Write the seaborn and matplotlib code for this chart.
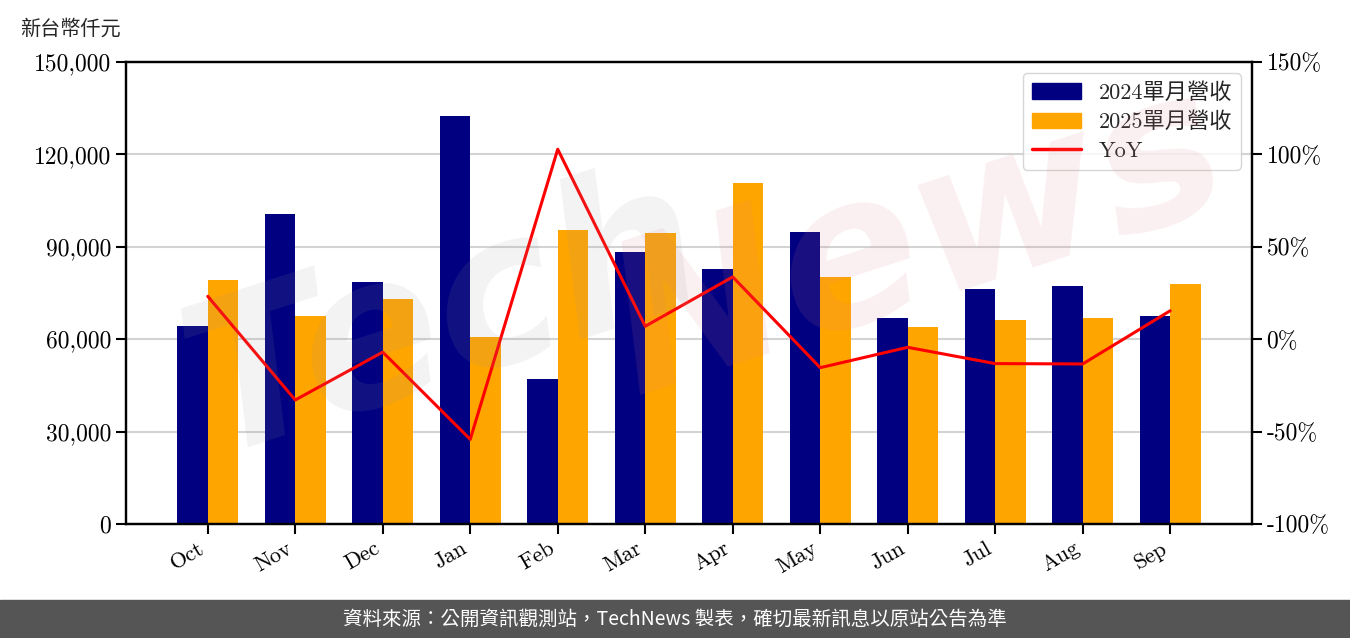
import matplotlib
matplotlib.use("Agg")
import matplotlib.pyplot as plt
import seaborn as sns
import pandas as pd
import numpy as np
from matplotlib.ticker import FuncFormatter, MultipleLocator
from matplotlib.patches import Patch
from matplotlib.lines import Line2D

# data (thousand NTD)
months = ['Oct', 'Nov', 'Dec', 'Jan', 'Feb', 'Mar', 'Apr', 'May', 'Jun', 'Jul', 'Aug', 'Sep']
rev_2024 = [64290, 100660, 78580, 132480, 47080, 88320, 82800, 94810, 66890, 76300, 77280, 67540]
rev_2025 = [79230, 67540, 73060, 60720, 95460, 94490, 110720, 80200, 63970, 66240, 66890, 77930]
yoy = [23.2, -32.9, -7.0, -54.2, 102.8, 7.0, 33.7, -15.4, -4.4, -13.2, -13.4, 15.4]
series_names = ['2024單月營收', '2025單月營收']
bar_colors = ['#000080', '#FFA500']

sns.set_theme(style='white')
plt.rcParams['font.family'] = ['cmr10', 'Noto Sans CJK TC']
plt.rcParams['axes.unicode_minus'] = False

df = pd.DataFrame({
    'month': months * 2,
    'revenue': rev_2024 + rev_2025,
    'series': [series_names[0]] * 12 + [series_names[1]] * 12,
})

fig = plt.figure(figsize=(13.5, 6.38), dpi=100)
ax = fig.add_axes([0.0933, 0.1787, 0.8341, 0.7241])

sns.barplot(data=df, x='month', y='revenue', hue='series', order=months,
            hue_order=series_names, palette=bar_colors, width=0.7,
            saturation=1, linewidth=0, ax=ax, legend=False)

ax.set_ylim(0, 150000)
ax.yaxis.set_major_locator(MultipleLocator(30000))
ax.yaxis.set_major_formatter(FuncFormatter(lambda v, p: f'{int(v):,}'))
ax.set_xlim(-0.935, 11.935)
ax.grid(axis='y', color='#d3d3d3', lw=1.5)
ax.set_axisbelow(True)
ax.set_xlabel('')
ax.set_ylabel('')
for s in ax.spines.values():
    s.set_color('black')
    s.set_linewidth(1.6)
ax.tick_params(axis='both', direction='out', length=7, width=1.5, colors='black',
               labelsize=17, left=True, bottom=True)
ax.tick_params(axis='x', labelsize=16)
plt.setp(ax.get_xticklabels(), rotation=30, ha='right')

# YoY line on the right axis
ax2 = ax.twinx()
sns.lineplot(x=np.arange(len(months)), y=yoy, color='red', lw=2.2, ax=ax2)
ax2.set_ylim(-100, 150)
ax2.yaxis.set_major_locator(MultipleLocator(50))
ax2.yaxis.set_major_formatter(FuncFormatter(lambda v, p: f'{int(v)}%'))
ax2.grid(False)
for s in ax2.spines.values():
    s.set_color('black')
    s.set_linewidth(1.6)
ax2.tick_params(axis='y', direction='out', length=7, width=1.5, colors='black',
                labelsize=17, right=True)
ax2.set_xlim(-0.935, 11.935)

handles = [Patch(color=bar_colors[0], label=series_names[0]),
           Patch(color=bar_colors[1], label=series_names[1]),
           Line2D([], [], color='red', lw=2.5, label='YoY')]
ax2.legend(handles=handles, loc='upper right', fontsize=16, frameon=True,
           fancybox=True, edgecolor='#cccccc', framealpha=0.8,
           handlelength=2.2, borderpad=0.4, labelspacing=0.4)

# watermark
fig.text(0.33, 0.5, 'Tech', fontsize=150, fontstyle='italic', fontweight='bold',
         family='DejaVu Sans', color='#999999', alpha=0.12, rotation=18,
         ha='center', va='center')
fig.text(0.68, 0.62, 'News', fontsize=150, fontstyle='italic', fontweight='bold',
         family='DejaVu Sans', color='#e08088', alpha=0.12, rotation=18,
         ha='center', va='center')

fig.text(0.015, 0.955, '新台幣仟元', fontsize=14.5, family=['Noto Sans CJK TC'],
         ha='left', va='center')

# footer band
fig.patches.append(plt.Rectangle((0, 0), 1, 38 / 638, transform=fig.transFigure,
                                 color='#555555', zorder=0))
fig.text(0.5, 19 / 638, '資料來源：公開資訊觀測站，TechNews 製表，確切最新訊息以原站公告為準',
         fontsize=14, color='white', family=['Noto Sans CJK TC'],
         ha='center', va='center')

fig.savefig('out.png', dpi=100)
